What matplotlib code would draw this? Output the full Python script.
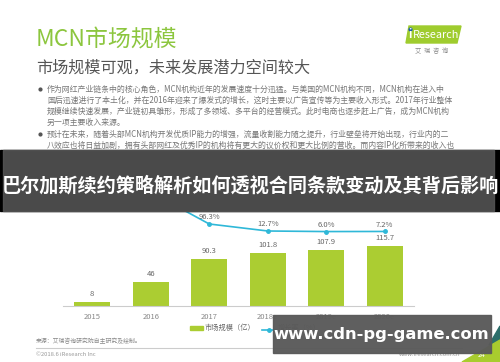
import matplotlib.pyplot as plt
from matplotlib.patches import Rectangle, Polygon
import numpy as np

plt.rcParams['font.family'] = ['Noto Sans CJK SC', 'DejaVu Sans']

years = ['2015', '2016', '2017', '2018e', '2019e', '2020e']
marketSize = [8, 46, 90.3, 101.8, 107.9, 115.7]
growthYears = [1, 2, 3, 4, 5]
growthRate = [475.0, 96.3, 12.7, 6.0, 7.2]
growthLabels = ['', '96.3%', '12.7%', '6.0%', '7.2%']

bullet1 = ['作为网红产业链条中的核心角色，MCN机构近年的发展速度十分迅猛。与美国的MCN机构不同，MCN机构在进入中',
           '国后迅速进行了本土化，并在2016年迎来了爆发式的增长，这时主要以广告宣传等为主要收入形式。2017年行业整体',
           '规模继续快速发展，产业链初具雏形，形成了多领域、多平台的经营模式。此时电商也逐步赶上广告，成为MCN机构',
           '另一项主要收入来源。']
bullet2 = ['预计在未来，随着头部MCN机构开发优质IP能力的增强，流量收割能力随之提升，行业壁垒将开始出现，行业内的二',
           '八效应也将日益加剧，拥有头部网红及优秀IP的机构将有更大的议价权和更大比例的营收。而内容IP化所带来的收入也',
           '将与电商和广告一起，成为MCN机构未来收入的三驾马车。']

W, H = 500, 362
fig = plt.figure(figsize=(5, 3.62), dpi=100)

barGreen = '#abcd32'
lineBlue = '#2fb8d8'

########################
# chart
########################
def px(x0, y0, x1, y1):
    return [x0 / W, 1 - y1 / H, (x1 - x0) / W, (y1 - y0) / H]

ax = fig.add_axes(px(63, 150, 414, 306))
x = np.arange(len(years))
ax.bar(x, marketSize, width=0.62, color=barGreen, zorder=2)
for i, v in enumerate(marketSize):
    ax.text(i, v + 8, ('%g' % v), ha='center', va='bottom', fontsize=5.5, color='#666666')
ax.set_xlim(-0.5, 5.5)
ax.set_ylim(0, 300)
ax.set_xticks(x)
ax.set_xticklabels(years, fontsize=5.5, color='#888888')
ax.tick_params(length=0, pad=5)
ax.set_yticks([])
for s in ['top', 'right', 'left']:
    ax.spines[s].set_visible(False)
ax.spines['bottom'].set_color('#cccccc')
ax.patch.set_alpha(0)

ax2 = ax.twinx()
ax2.plot(growthYears, growthRate, color=lineBlue, lw=1.2, marker='o', ms=2.5)
for xi, v, lab in zip(growthYears, growthRate, growthLabels):
    ax2.text(xi, v + 30, lab, ha='center', va='bottom', fontsize=5.5, color='#666666')
ax2.set_ylim(-883, 980)
ax2.set_yticks([])
ax2.axis('off')

########################
# page overlay
########################
ov = fig.add_axes([0, 0, 1, 1], zorder=5)
ov.set_xlim(0, W)
ov.set_ylim(H, 0)
ov.axis('off')
ov.patch.set_alpha(0)

ov.text(36, 40, 'MCN市场规模', fontsize=16.5, color='#8cc63e', va='center', ha='left')
ov.text(36, 68, '市场规模可观，未来发展潜力空间较大', fontsize=11.6, color='#555555', va='center', ha='left')

# logo
ov.add_patch(Polygon([(409, 26), (461, 26), (457, 43), (406, 43)], closed=True, color='#9fcc2e'))
ov.text(410, 35, 'i', fontsize=8, color='white', va='center', ha='center', fontweight='bold')
ov.plot([410], [29], 'o', color='#1d5fa8', ms=2)
ov.text(413, 35, 'Research', fontsize=7.8, color='white', va='center', ha='left')
ov.text(432, 51, '艾  瑞  咨  询', fontsize=4.5, color='#888888', va='center', ha='center')

ys = [89, 100, 111, 122]
for yy, line in zip(ys, bullet1):
    ov.text(47, yy, line, fontsize=5.7, color='#777777', va='center', ha='left')
ov.plot([40], [89], 'o', color='#555555', ms=2)
ys = [134, 145, 156]
for yy, line in zip(ys, bullet2):
    ov.text(47, yy, line, fontsize=5.7, color='#777777', va='center', ha='left')
ov.plot([40], [134], 'o', color='#555555', ms=2)

ov.text(251, 170, '2015-2020年MCN市场规模', fontsize=7.5, fontweight='bold', color='#333333',
        va='center', ha='center')

# legend
ov.add_patch(Rectangle((190, 326), 13, 4, color=barGreen))
ov.text(205, 328, '市场规模（亿）', fontsize=5.2, color='#666666', va='center', ha='left')
ov.plot([262, 276], [330, 330], color=lineBlue, lw=1.2)
ov.plot([269], [330], 'o', color=lineBlue, ms=2.5)
ov.text(278, 328, '增长率（%）', fontsize=5.2, color='#666666', va='center', ha='left')

ov.text(36, 341, '来源：艾瑞咨询研究院自主研究及绘制。', fontsize=4.2, color='#888888', va='center', ha='left')
ov.plot([36, 462], [348, 348], color='#cccccc', lw=0.8)
ov.text(36, 354, '©2018.6 iResearch Inc', fontsize=4.2, color='#999999', va='center', ha='left')
ov.text(460, 354, 'www.iresearch.com.cn', fontsize=4.2, color='#999999', va='center', ha='right')

# corner decoration
ov.add_patch(Polygon([(489, 345), (500, 326), (500, 348)], closed=True, color='#2c6e6a'))
ov.add_patch(Polygon([(462, 362), (500, 340), (500, 362)], closed=True, color='#a8cc2e'))
ov.text(482, 355, '24', fontsize=5, color='white', va='center', ha='center')

# banner
ov.add_patch(Rectangle((0, 150), W, 61, color='black', zorder=9))
ov.add_patch(Rectangle((3, 150), 491, 61, color='#555555', alpha=0.88, zorder=10))
ov.text(250, 186, '巴尔加斯续约策略解析如何透视合同条款变动及其背后影响', fontsize=13.8,
        fontweight='bold', color='white', va='center', ha='center', zorder=11)

# watermark box
ov.add_patch(Rectangle((273, 315), 218, 38, color='#5a5a5a', alpha=0.97, zorder=10))
ov.text(381, 334, 'www.cdn-pg-game.com', fontsize=11.8, fontweight='bold', color='white',
        va='center', ha='center', zorder=11, family='DejaVu Sans')

fig.savefig('out.png', dpi=100)
